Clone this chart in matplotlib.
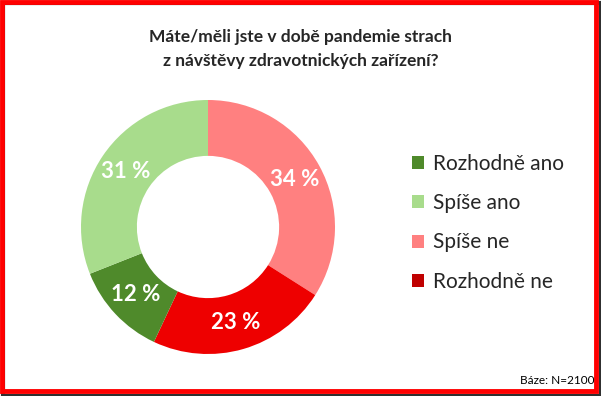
import numpy as np
import matplotlib.pyplot as plt
from matplotlib.patches import Patch, Rectangle

plt.rcParams['font.family'] = ['Lato', 'DejaVu Sans']

# data, clockwise from the top
slice_labels = ["Spíše ne", "Rozhodně ne", "Rozhodně ano", "Spíše ano"]
slice_values = [34, 23, 12, 31]
slice_colors = ["#FF8080", "#EE0000", "#4F8A2B", "#A8DC8C"]

legend_labels = ["Rozhodně ano", "Spíše ano", "Spíše ne", "Rozhodně ne"]
legend_colors = ["#4F8A2B", "#A8DC8C", "#FF8080", "#C00000"]

title = "Máte/měli jste v době pandemie strach\nz návštěvy zdravotnických zařízení?"
base_note = "Báze: N=2100"

fig = plt.figure(figsize=(6.01, 3.96), dpi=100)

# donut: centre ~ (208, 227) px, outer radius ~127 px
ax = fig.add_axes([(208 - 127) / 601, 1 - (227 + 127) / 396, 254 / 601, 254 / 396])
wedges, texts = ax.pie(slice_values, colors=slice_colors, startangle=90,
                       counterclock=False, radius=1.0,
                       wedgeprops=dict(width=0.44, linewidth=0))
ax.set_xlim(-1, 1)
ax.set_ylim(-1, 1)
ax.set_aspect('equal')
for w, v in zip(wedges, slice_values):
    ang = np.deg2rad((w.theta1 + w.theta2) / 2)
    r = 0.78
    ax.text(r * np.cos(ang), r * np.sin(ang), f"{v} %", color="white",
            fontsize=16, fontweight="bold", ha="center", va="center")

fig.text(0.5, 1 - 49 / 396, title, ha="center", va="center", fontsize=12.5,
         fontweight="bold", color="#262626", linespacing=1.55)

handles = [Patch(facecolor=c, edgecolor="none") for c in legend_colors]
fig.legend(handles, legend_labels, loc="upper left",
           bbox_to_anchor=(393 / 601, 1 - 135 / 396), frameon=False,
           fontsize=15, handlelength=0.6, handleheight=0.6,
           handletextpad=0.4, labelspacing=0.93, labelcolor="#262626")

fig.text(594 / 601, 1 - 380 / 396, base_note, ha="right", va="center",
         fontsize=8.5, color="#000000")

# red frame with a dark shadow on the right and bottom
fig.patches.append(Rectangle((3 / 601, 0), 598 / 601, 393 / 396, transform=fig.transFigure,
                             facecolor="none", edgecolor="#303030", linewidth=3))
fig.patches.append(Rectangle((2 / 601, 5 / 396), 594 / 601, 389 / 396, transform=fig.transFigure,
                             facecolor="none", edgecolor="#FF0000", linewidth=3.5))

fig.savefig("out.png", dpi=100)
